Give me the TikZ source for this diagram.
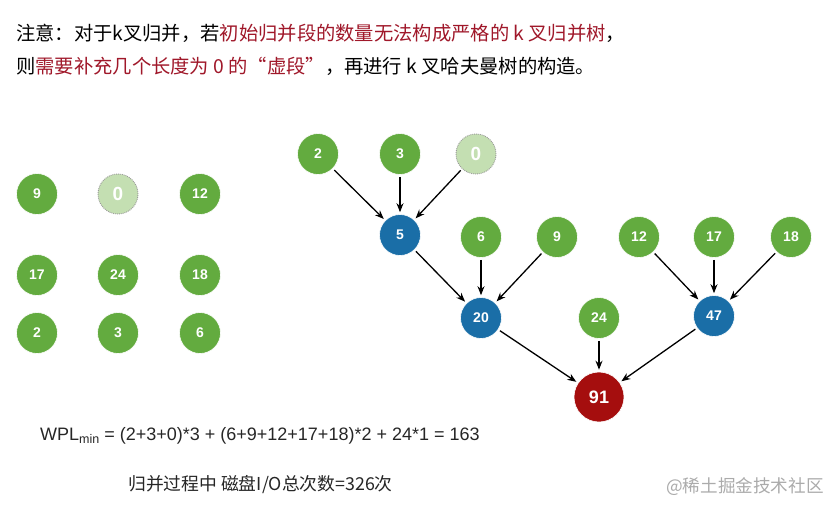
\documentclass[tikz,border=0pt]{standalone}
\usepackage{fontspec}
\setmainfont{Liberation Sans}
\newfontfamily\cjk{Noto Sans CJK SC}
\usetikzlibrary{arrows.meta}
\definecolor{lgreen}{HTML}{63AB3F}
\definecolor{fgreen}{HTML}{C4DFB2}
\definecolor{tblue}{HTML}{1A6EA7}
\definecolor{tred}{HTML}{A50E0E}
\definecolor{hred}{HTML}{A0182A}
\definecolor{wmark}{HTML}{ABABAB}
\tikzset{
  leaf/.style={circle, fill=lgreen, draw=white, line width=0.6pt, minimum size=41pt, inner sep=0pt,
    text=white, font=\fontsize{14}{14}\selectfont\bfseries},
  dummy/.style={circle, fill=fgreen, draw=gray!80, densely dotted, line width=0.9pt, minimum size=40pt, inner sep=0pt,
    text=white, font=\fontsize{19}{19}\selectfont\bfseries},
  inner/.style={circle, fill=tblue, draw=white, line width=0.6pt, minimum size=41pt, inner sep=0pt,
    text=white, font=\fontsize{14}{14}\selectfont\bfseries},
  rootnode/.style={circle, fill=tred, draw=white, line width=0.6pt, minimum size=50pt, inner sep=0pt,
    text=white, font=\fontsize{18}{18}\selectfont\bfseries},
  edge/.style={-{Stealth[length=9pt,width=7pt]}, line width=1.3pt, black, shorten >=2pt, shorten <=2pt},
  txt/.style={inner sep=0pt, anchor=west}
}
\begin{document}
\begin{tikzpicture}[x=1pt,y=-1pt]
\useasboundingbox[fill=white] (0,0) rectangle (826,504);

% header
\node[txt, font=\cjk\fontsize{19.3}{19.3}\selectfont] (h1) at (16,33)
  {注意：对于k叉归并，若\textcolor{hred}{初始归并段的数量无法构成严格的 k 叉归并树}，};
\node[txt, font=\cjk\fontsize{19.3}{19.3}\selectfont] (h2) at (16,66)
  {则\textcolor{hred}{需要补充几个长度为 0 的“虚段”}，再进行 k 叉哈夫曼树的构造。};

% left grid
\node[leaf] (g9) at (37,194) {9};
\node[dummy] (g0) at (118,194) {0};
\node[leaf] (g12) at (200,194) {12};
\node[leaf] (g17) at (37,275) {17};
\node[leaf] (g24) at (118,275) {24};
\node[leaf] (g18) at (200,275) {18};
\node[leaf] (g2) at (37,333) {2};
\node[leaf] (g3) at (118,333) {3};
\node[leaf] (g6) at (200,333) {6};

% tree
\node[leaf] (t2) at (318,154) {2};
\node[leaf] (t3) at (400,154) {3};
\node[dummy] (t0) at (476,154) {0};
\node[inner] (t5) at (400,235) {5};
\node[leaf] (t6) at (481,237) {6};
\node[leaf] (t9) at (557,237) {9};
\node[leaf] (t12) at (639,237) {12};
\node[leaf] (t17) at (714,237) {17};
\node[leaf] (t18) at (791,237) {18};
\node[inner] (t20) at (481,318) {20};
\node[leaf] (t24) at (599,318) {24};
\node[inner] (t47) at (714,316) {47};
\node[rootnode] (t91) at (599,397) {91};

\draw[edge] (t2) -- (t5);
\draw[edge] (t3) -- (t5);
\draw[edge] (t0) -- (t5);
\draw[edge] (t5) -- (t20);
\draw[edge] (t6) -- (t20);
\draw[edge] (t9) -- (t20);
\draw[edge] (t12) -- (t47);
\draw[edge] (t17) -- (t47);
\draw[edge] (t18) -- (t47);
\draw[edge] (t20) -- (t91);
\draw[edge] (t24) -- (t91);
\draw[edge] (t47) -- (t91);

% formula
\node[txt, font=\fontsize{18}{18}\selectfont, text=black!85] (wpl) at (40,436)
  {WPL\raisebox{-0.25ex}{\fontsize{12.5}{12.5}\selectfont min} = (2+3+0)*3 + (6+9+12+17+18)*2 + 24*1 = 163};
\node[txt, font=\cjk\fontsize{17.8}{17.8}\selectfont, text=black!85] (io) at (128,485)
  {归并过程中 磁盘I/O总次数=326次};
\node[txt, font=\cjk\fontsize{17.6}{17.6}\selectfont, text=wmark] (wm) at (666,487)
  {@稀土掘金技术社区};
\end{tikzpicture}
\end{document}
